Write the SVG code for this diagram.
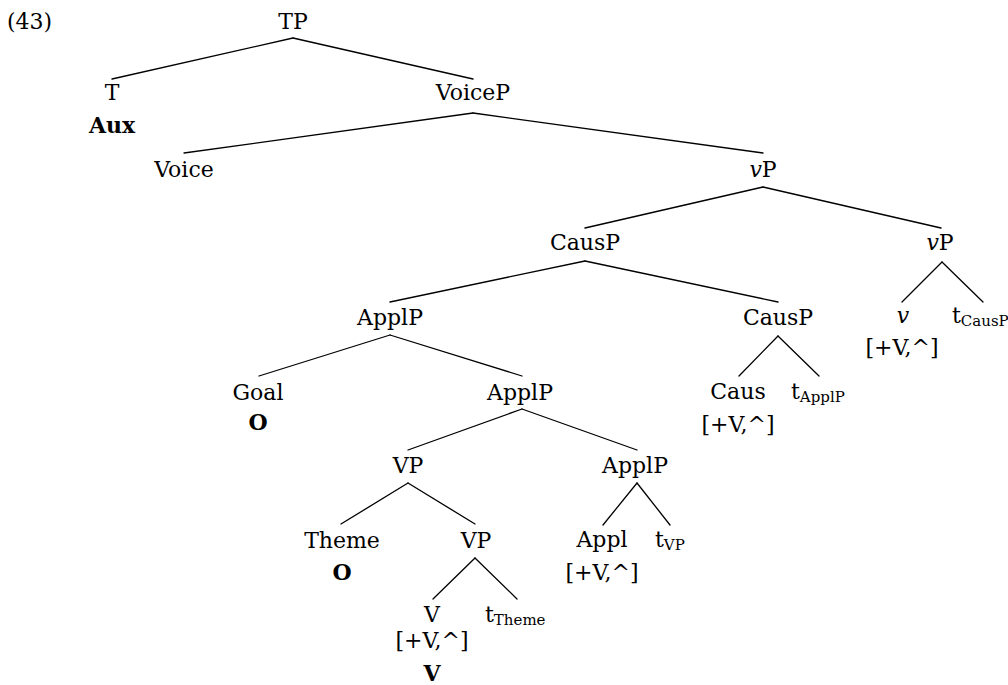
<svg xmlns="http://www.w3.org/2000/svg" width="1008" height="685" viewBox="0 0 1008 685">
  <style>
    text { font-family: "DejaVu Serif", "Liberation Serif", serif; font-size: 22px; fill: #000; }
    .c { text-anchor: middle; }
    .b { font-weight: bold; }
    .sub { font-size: 15px; }
    .edges line { stroke: #000; stroke-width: 1.3; stroke-linecap: round; }
  </style>
  <rect width="1008" height="685" fill="#fff"/>

  <text x="7" y="29">(43)</text>

  <g class="edges" id="edges">
    <line x1="293" y1="38" x2="112" y2="79"/>
    <line x1="293" y1="38" x2="473" y2="79"/>
    <line x1="473" y1="113" x2="184" y2="153"/>
    <line x1="473" y1="113" x2="763" y2="153"/>
    <line x1="763" y1="187" x2="585" y2="228"/>
    <line x1="763" y1="187" x2="941" y2="228"/>
    <line x1="585" y1="261" x2="390" y2="302"/>
    <line x1="585" y1="261" x2="778" y2="302"/>
    <line x1="778" y1="336" x2="739" y2="376"/>
    <line x1="778" y1="336" x2="819" y2="376"/>
    <line x1="942" y1="262" x2="902" y2="302"/>
    <line x1="942" y1="262" x2="983" y2="302"/>
    <line x1="390" y1="335" x2="259" y2="376"/>
    <line x1="390" y1="335" x2="522" y2="376"/>
    <line x1="522" y1="409" x2="408" y2="450"/>
    <line x1="522" y1="409" x2="637" y2="450"/>
    <line x1="408" y1="483" x2="341" y2="524"/>
    <line x1="408" y1="483" x2="475" y2="524"/>
    <line x1="637" y1="483" x2="603" y2="525"/>
    <line x1="637" y1="483" x2="670" y2="525"/>
    <line x1="475" y1="558" x2="433" y2="599"/>
    <line x1="475" y1="558" x2="517" y2="599"/>
  </g>

  <g id="n-TP"><text class="c" x="293" y="29">TP</text></g>
  <g id="n-T"><text class="c" x="112" y="100">T</text><text class="c b" x="112" y="133">Aux</text></g>
  <g id="n-VoiceP"><text class="c" x="473" y="100">VoiceP</text></g>
  <g id="n-Voice"><text class="c" x="184" y="177">Voice</text></g>
  <g id="n-vP1"><text class="c" x="763" y="177"><tspan font-style="italic">v</tspan>P</text></g>
  <g id="n-CausP1"><text class="c" x="585" y="250">CausP</text></g>
  <g id="n-vP2"><text class="c" x="940" y="250"><tspan font-style="italic">v</tspan>P</text></g>
  <g id="n-v"><text class="c" x="903" y="323" font-style="italic">v</text><text class="c" x="902" y="355">[+V,^]</text></g>
  <g id="n-tCausP"><text x="952" y="323">t<tspan class="sub" dy="3">CausP</tspan></text></g>
  <g id="n-ApplP1"><text class="c" x="390" y="325">ApplP</text></g>
  <g id="n-CausP2"><text class="c" x="778" y="325">CausP</text></g>
  <g id="n-Caus"><text class="c" x="738" y="399">Caus</text><text class="c" x="738" y="432">[+V,^]</text></g>
  <g id="n-tApplP"><text x="791" y="399">t<tspan class="sub" dy="3">ApplP</tspan></text></g>
  <g id="n-Goal"><text class="c" x="258" y="400">Goal</text><text class="c b" x="258" y="430">O</text></g>
  <g id="n-ApplP2"><text class="c" x="520" y="400">ApplP</text></g>
  <g id="n-VP1"><text class="c" x="408" y="473">VP</text></g>
  <g id="n-ApplP3"><text class="c" x="635" y="473">ApplP</text></g>
  <g id="n-Theme"><text class="c" x="342" y="548">Theme</text><text class="c b" x="342" y="580">O</text></g>
  <g id="n-VP2"><text class="c" x="476" y="548">VP</text></g>
  <g id="n-Appl"><text class="c" x="602" y="547">Appl</text><text class="c" x="602" y="580">[+V,^]</text></g>
  <g id="n-tVP"><text x="655" y="547">t<tspan class="sub" dy="3">VP</tspan></text></g>
  <g id="n-V"><text class="c" x="432" y="622">V</text><text class="c" x="432" y="648">[+V,^]</text><text class="c b" x="432" y="681">V</text></g>
  <g id="n-tTheme"><text x="485" y="622">t<tspan class="sub" dy="3">Theme</tspan></text></g>
</svg>
